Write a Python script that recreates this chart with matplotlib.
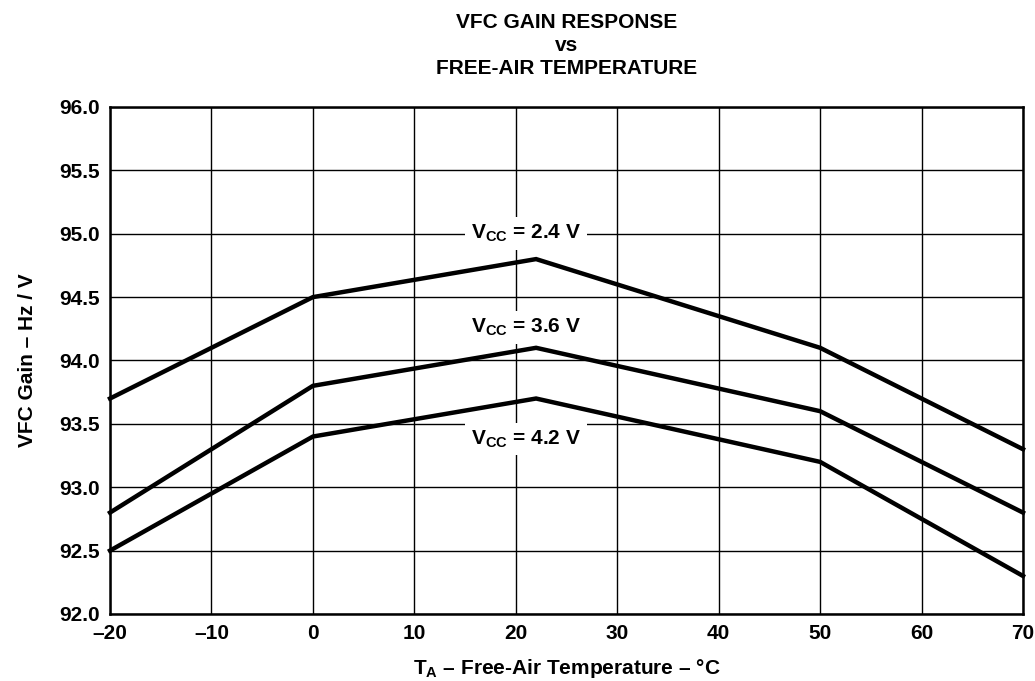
import matplotlib.pyplot as plt

plt.rcParams['font.family'] = ['Liberation Sans', 'DejaVu Sans']
plt.rcParams['font.weight'] = 'bold'
plt.rcParams['axes.labelweight'] = 'bold'
plt.rcParams['axes.titleweight'] = 'bold'
plt.rcParams['mathtext.fontset'] = 'custom'
plt.rcParams['mathtext.rm'] = 'Liberation Sans:bold'
plt.rcParams['mathtext.it'] = 'Liberation Sans:bold'
plt.rcParams['mathtext.bf'] = 'Liberation Sans:bold'

# Data
temps = [-20, 0, 22, 50, 70]
gain_24 = [93.7, 94.5, 94.8, 94.1, 93.3]
gain_36 = [92.8, 93.8, 94.1, 93.6, 92.8]
gain_42 = [92.5, 93.4, 93.7, 93.2, 92.3]

xticks = [-20, -10, 0, 10, 20, 30, 40, 50, 60, 70]
xtick_labels = ['\u201320', '\u201310', '0', '10', '20', '30', '40', '50', '60', '70']
yticks = [92.0, 92.5, 93.0, 93.5, 94.0, 94.5, 95.0, 95.5, 96.0]

FS = 15

fig = plt.figure(figsize=(10.35, 6.81), dpi=100)
ax = fig.add_axes([0.1063, 0.0984, 0.8821, 0.7445])

for g in (gain_24, gain_36, gain_42):
    ax.plot(temps, g, color='black', linewidth=3.2, solid_joinstyle='miter', zorder=3, clip_on=False)

ax.set_xlim(-20, 70)
ax.set_ylim(92.0, 96.0)
ax.set_xticks(xticks)
ax.set_xticklabels(xtick_labels)
ax.set_yticks(yticks)
ax.set_yticklabels([f'{v:.1f}' for v in yticks])
ax.tick_params(length=0, labelsize=FS, pad=7)
ax.grid(True, color='black', linewidth=1.0)
ax.set_axisbelow(True)
for s in ax.spines.values():
    s.set_linewidth(1.8)

box = dict(facecolor='white', edgecolor='none', pad=4)
ax.text(21, 95.0, r'V$_{\mathrm{CC}}$ = 2.4 V', ha='center', va='center', fontsize=FS, bbox=box, zorder=4)
ax.text(21, 94.26, r'V$_{\mathrm{CC}}$ = 3.6 V', ha='center', va='center', fontsize=FS, bbox=box, zorder=4)
ax.text(21, 93.38, r'V$_{\mathrm{CC}}$ = 4.2 V', ha='center', va='center', fontsize=FS, bbox=box, zorder=4)

ax.set_title('VFC GAIN RESPONSE\nvs\nFREE-AIR TEMPERATURE', fontsize=FS,
             linespacing=1.25, pad=24)
ax.set_ylabel('VFC Gain \u2013 Hz / V', fontsize=FS, labelpad=16)
ax.set_xlabel('T$_{\\mathrm{A}}$ \u2013 Free-Air Temperature \u2013 \u00b0C', fontsize=FS, labelpad=10)

fig.savefig('out.png', dpi=100)
